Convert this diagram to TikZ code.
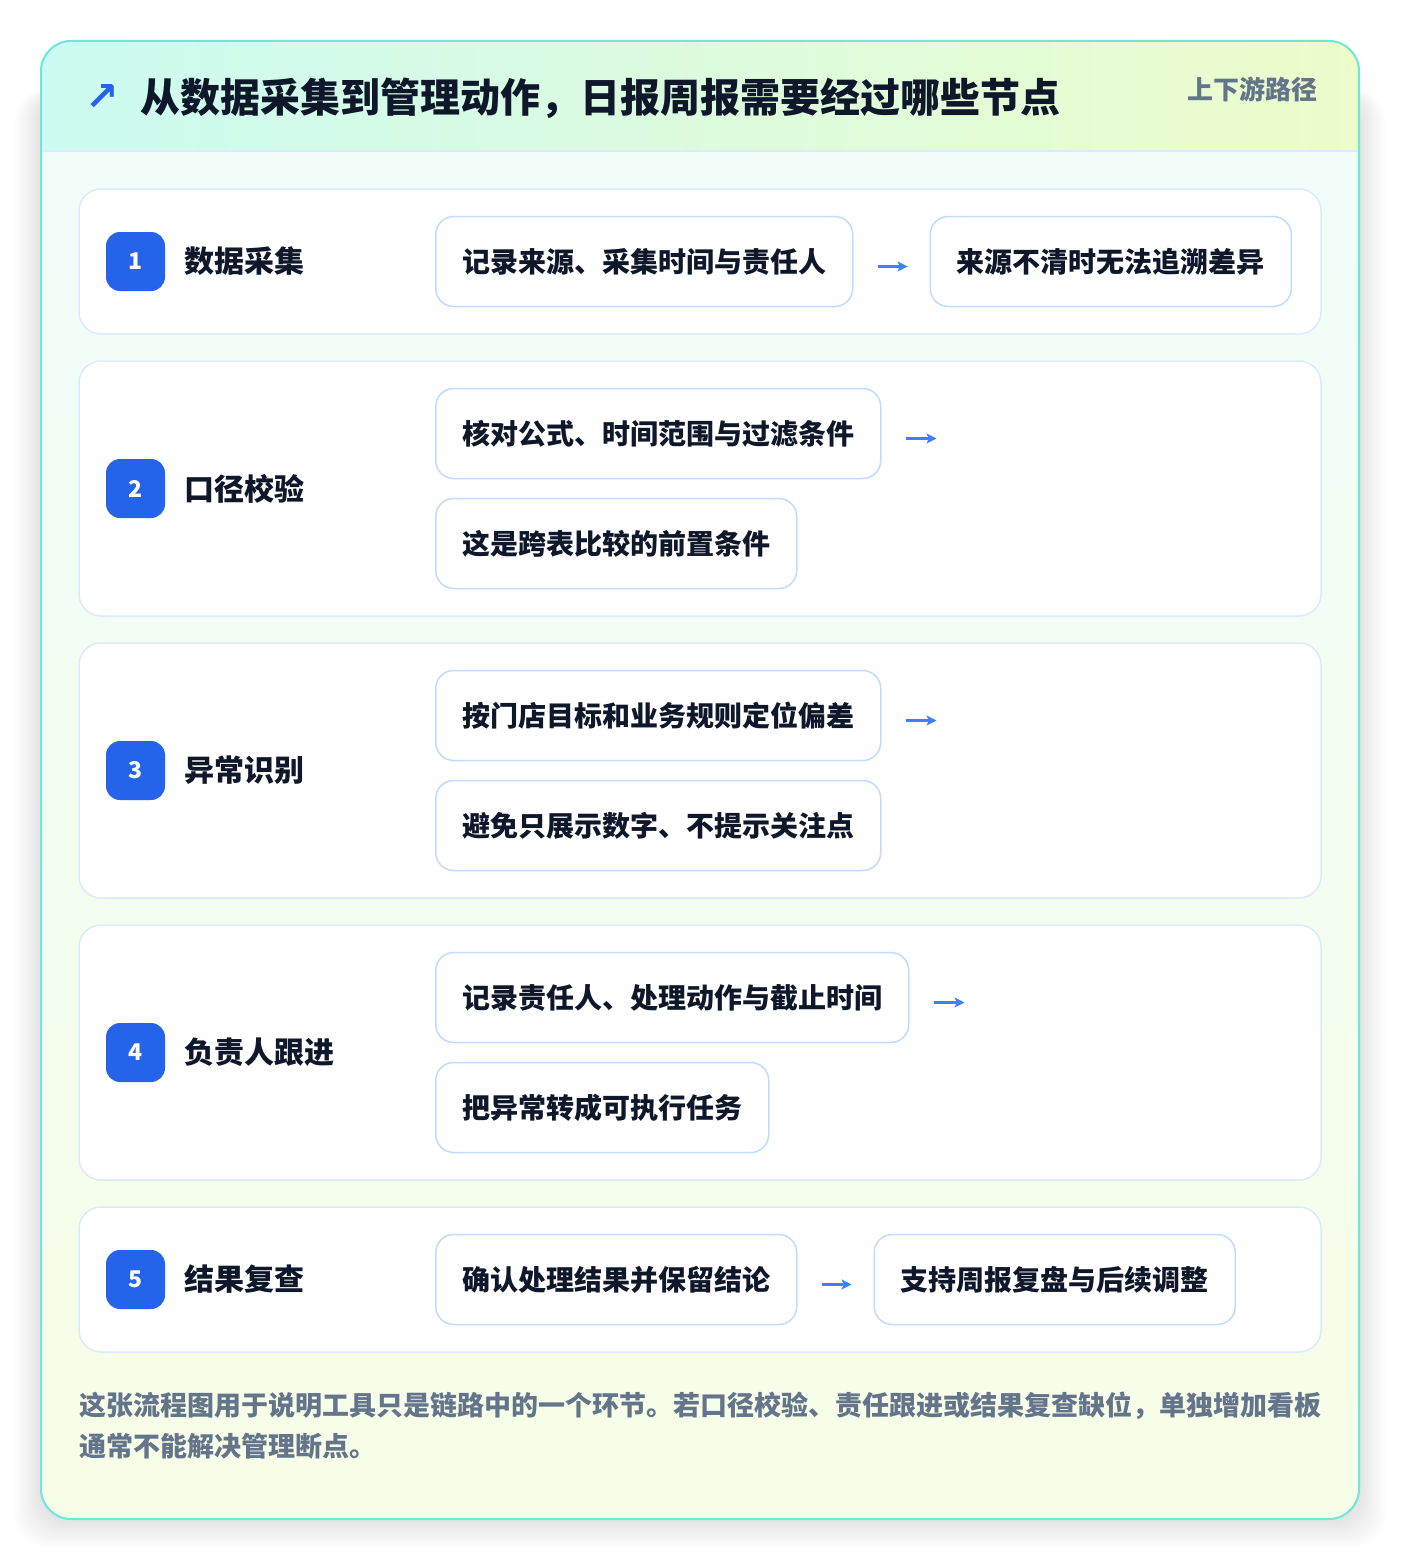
\documentclass[tikz,border=0pt]{standalone}
\usepackage{fontspec}
\setmainfont{Noto Sans CJK SC}
\newfontfamily\symfont{DejaVu Sans}
\usetikzlibrary{arrows.meta,positioning}

\definecolor{ink}{HTML}{0F172A}
\definecolor{muted}{HTML}{64748B}
\definecolor{badgeblue}{HTML}{2563EB}
\definecolor{arrowblue}{HTML}{3B82F6}
\definecolor{rowline}{HTML}{DBEAFE}
\definecolor{stepline}{HTML}{BFDBFE}
\definecolor{cardline}{HTML}{6EE7D8}
\definecolor{headleft}{HTML}{CCFBF1}
\definecolor{headright}{HTML}{ECFCCB}
\definecolor{bodytop}{HTML}{F0FDF9}
\definecolor{bodybottom}{HTML}{F7FEE7}

\newcommand\headfont{\fontsize{40}{48}\selectfont\bfseries}
\newcommand\tagfont{\fontsize{26}{30}\selectfont\bfseries}
\newcommand\rowfont{\fontsize{30}{36}\selectfont\bfseries}
\newcommand\stepfont{\fontsize{28}{34}\selectfont\bfseries}
\newcommand\badgefont{\fontsize{23}{28}\selectfont\bfseries}
\newcommand\notefont{\fontsize{27}{41}\selectfont\bfseries}

\tikzset{
	rowbox/.style={draw=rowline,fill=white,rounded corners=22pt,line width=1.5pt,minimum width=1242pt},
	stepbox/.style={draw=stepline,fill=white,rounded corners=18pt,line width=1.5pt,minimum height=90pt,inner xsep=26.5pt,font=\stepfont,text=ink},
	badge/.style={fill=badgeblue,rounded corners=14pt,minimum size=59pt,inner sep=0pt,text=white,font=\badgefont},
	rowlabel/.style={anchor=west,inner sep=0pt,font=\rowfont,text=ink},
	flow/.style={-{Stealth[length=10pt,width=10pt,inset=2.5pt]},draw=arrowblue,line width=2.5pt}
}

\begin{document}
\begin{tikzpicture}[x=1pt,y=1pt]
	\useasboundingbox (0,0) rectangle (1400,-1560);
	\fill[white] (0,0) rectangle (1400,-1560);

	% soft shadow under the card
	\foreach \s in {2,4,...,26}
		\fill[black,opacity=0.006,rounded corners=30pt] (41-\s,-90) rectangle (1359+\s,-1519-\s-2);

	% card with header band
	\begin{scope}
		\clip[rounded corners=30pt] (41,-41) rectangle (1359,-1519);
		\shade[left color=headleft,right color=headright] (41,-41) rectangle (1359,-151);
		\shade[top color=bodytop,bottom color=bodybottom] (41,-151) rectangle (1359,-1519);
		\draw[rowline,line width=1.5pt] (41,-151) -- (1359,-151);
	\end{scope}
	\draw[cardline,line width=2pt,rounded corners=30pt] (41,-41) rectangle (1359,-1519);

	\node[text=badgeblue,font=\symfont\bfseries\fontsize{40}{46}\selectfont] (icon) at (102,-98) {↗};
	\node[anchor=west,inner sep=0pt,text=ink,font=\headfont] (title) at (140,-98) {从数据采集到管理动作，日报周报需要经过哪些节点};
	\node[anchor=east,inner sep=0pt,text=muted,font=\tagfont] (tag) at (1318,-89) {上下游路径};

	% row 1
	\node[rowbox,minimum height=145pt] (row1) at (700,-261.5) {};
	\node[badge] (b1) at (135.5,-261.5) {1};
	\node[rowlabel] (l1) at (184,-261.5) {数据采集};
	\node[stepbox,anchor=west] (s1a) at (435,-261.5) {记录来源、采集时间与责任人};
	\node[stepbox,right=76pt of s1a] (s1b) {来源不清时无法追溯差异};
	\draw[flow,shorten <=24pt,shorten >=22pt] ([yshift=-5pt]s1a.east) -- ([yshift=-5pt]s1b.west);

	% row 2
	\node[rowbox,minimum height=255pt] (row2) at (700,-488.5) {};
	\node[badge] (b2) at (135.5,-488.5) {2};
	\node[rowlabel] (l2) at (184,-488.5) {口径校验};
	\node[stepbox,anchor=west] (s2a) at (435,-433.5) {核对公式、时间范围与过滤条件};
	\node[stepbox,anchor=west] (s2b) at (435,-543.5) {这是跨表比较的前置条件};
	\coordinate[right=55pt of s2a.east] (e2);
	\draw[flow,shorten <=24pt] ([yshift=-5pt]s2a.east) -- ([yshift=-5pt]e2);

	% row 3
	\node[rowbox,minimum height=255pt] (row3) at (700,-770.5) {};
	\node[badge] (b3) at (135.5,-770.5) {3};
	\node[rowlabel] (l3) at (184,-770.5) {异常识别};
	\node[stepbox,anchor=west] (s3a) at (435,-715.5) {按门店目标和业务规则定位偏差};
	\node[stepbox,anchor=west] (s3b) at (435,-825.5) {避免只展示数字、不提示关注点};
	\coordinate[right=55pt of s3a.east] (e3);
	\draw[flow,shorten <=24pt] ([yshift=-5pt]s3a.east) -- ([yshift=-5pt]e3);

	% row 4
	\node[rowbox,minimum height=255pt] (row4) at (700,-1052.5) {};
	\node[badge] (b4) at (135.5,-1052.5) {4};
	\node[rowlabel] (l4) at (184,-1052.5) {负责人跟进};
	\node[stepbox,anchor=west] (s4a) at (435,-997.5) {记录责任人、处理动作与截止时间};
	\node[stepbox,anchor=west] (s4b) at (435,-1107.5) {把异常转成可执行任务};
	\coordinate[right=55pt of s4a.east] (e4);
	\draw[flow,shorten <=24pt] ([yshift=-5pt]s4a.east) -- ([yshift=-5pt]e4);

	% row 5
	\node[rowbox,minimum height=145pt] (row5) at (700,-1279.5) {};
	\node[badge] (b5) at (135.5,-1279.5) {5};
	\node[rowlabel] (l5) at (184,-1279.5) {结果复查};
	\node[stepbox,anchor=west] (s5a) at (435,-1279.5) {确认处理结果并保留结论};
	\node[stepbox,right=76pt of s5a] (s5b) {支持周报复盘与后续调整};
	\draw[flow,shorten <=24pt,shorten >=22pt] ([yshift=-5pt]s5a.east) -- ([yshift=-5pt]s5b.west);

	\node[anchor=west,inner sep=0pt,align=left,text=muted,font=\notefont] (note) at (79,-1425.5) {这张流程图用于说明工具只是链路中的一个环节。若口径校验、责任跟进或结果复查缺位，单独增加看板\\通常不能解决管理断点。};
\end{tikzpicture}
\end{document}
